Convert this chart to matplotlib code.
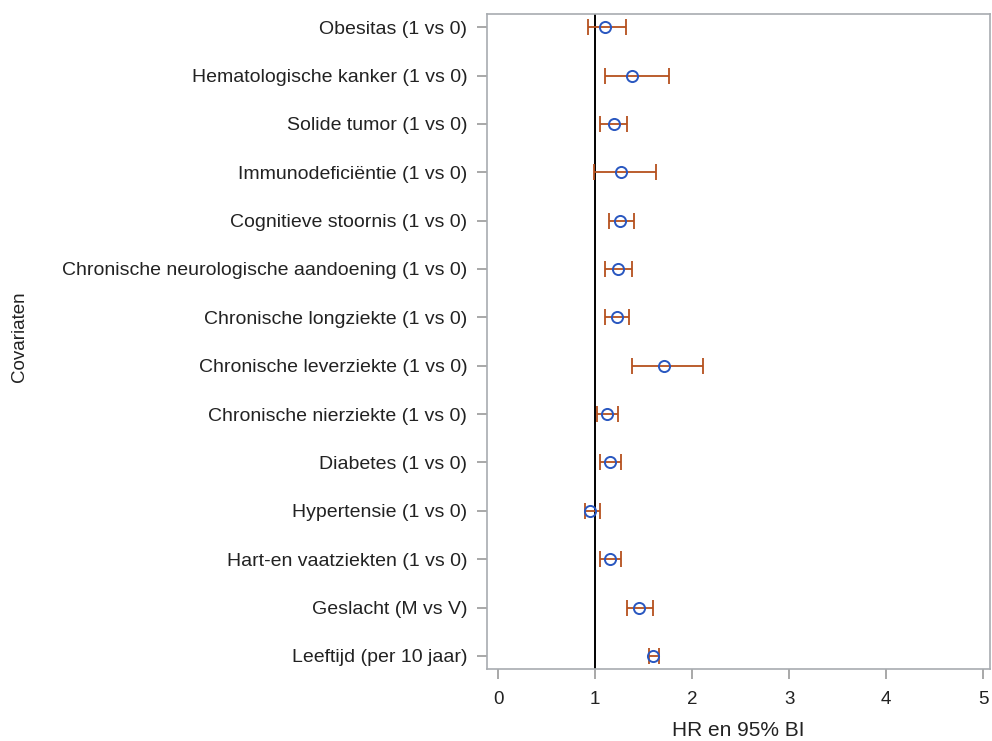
import numpy as np
import matplotlib.pyplot as plt

plt.rcParams['font.family'] = ['Liberation Sans', 'DejaVu Sans']

covariates = ['Obesitas (1 vs 0)', 'Hematologische kanker (1 vs 0)', 'Solide tumor (1 vs 0)',
              'Immunodeficiëntie (1 vs 0)', 'Cognitieve stoornis (1 vs 0)',
              'Chronische neurologische aandoening (1 vs 0)', 'Chronische longziekte (1 vs 0)',
              'Chronische leverziekte (1 vs 0)', 'Chronische nierziekte (1 vs 0)',
              'Diabetes (1 vs 0)', 'Hypertensie (1 vs 0)', 'Hart-en vaatziekten (1 vs 0)',
              'Geslacht (M vs V)', 'Leeftijd (per 10 jaar)']
hr = [1.10, 1.38, 1.19, 1.27, 1.25, 1.23, 1.22, 1.71, 1.12, 1.15, 0.95, 1.15, 1.45, 1.60]
lower = [0.92, 1.10, 1.05, 0.99, 1.14, 1.10, 1.10, 1.38, 1.02, 1.05, 0.89, 1.05, 1.33, 1.55]
upper = [1.32, 1.76, 1.33, 1.63, 1.40, 1.38, 1.35, 2.11, 1.23, 1.26, 1.05, 1.26, 1.59, 1.66]
xticks = [0, 1, 2, 3, 4, 5]

hr = np.array(hr)
lower = np.array(lower)
upper = np.array(upper)
y = np.arange(len(covariates))[::-1]

fig = plt.figure(figsize=(9.92, 7.41), dpi=100)
ax = fig.add_axes([0.4906, 0.0972, 0.5074, 0.8838])

ax.axvline(1, color='black', linewidth=1.4, zorder=1)
ax.errorbar(hr, y, xerr=[hr - lower, upper - hr], fmt='none', ecolor='#b5501e',
            elinewidth=1.3, capsize=6, capthick=1.3, zorder=2)
ax.plot(hr, y, 'o', mfc='none', mec='#2957c0', mew=1.4, ms=8, zorder=3)

ax.set_xlim(-0.12, 5.07)
ax.set_ylim(-0.27, len(covariates) - 1 + 0.27)
ax.set_xticks(xticks)
ax.set_yticks(y)
ax.set_yticklabels(covariates)
ax.tick_params(axis='both', colors='#9a9a9a', labelcolor='#222222',
               length=7, width=1.2, pad=7)
ax.tick_params(axis='y', labelsize=14)
ax.tick_params(axis='x', labelsize=13.5, pad=9)
for s in ax.spines.values():
    s.set_color('#a8acb0')
    s.set_linewidth(1.2)

ax.set_xlabel('HR en 95% BI', fontsize=15, color='#222222', labelpad=9)
fig.text(0.011, 0.545, 'Covariaten', rotation=90, va='center', ha='left',
         fontsize=13.5, color='#222222')

plt.savefig('out.png', dpi=100)
